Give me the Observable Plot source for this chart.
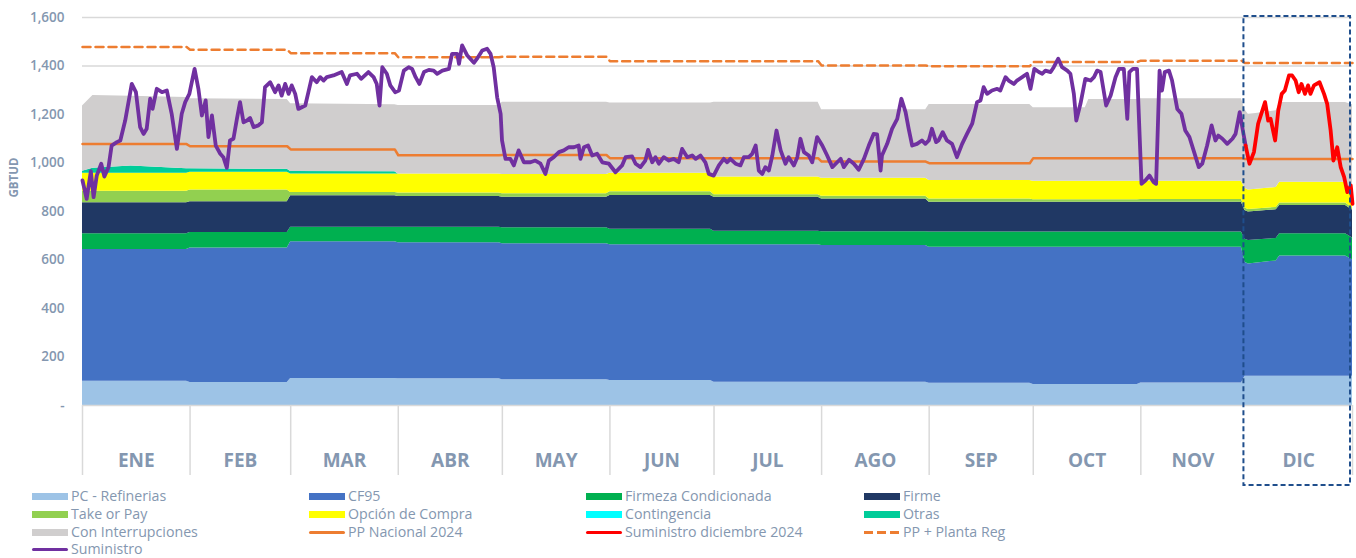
<!DOCTYPE html>
<html>
<head>
<meta charset="utf-8">
<script src="https://cdn.jsdelivr.net/npm/d3@7"></script>
<script src="https://cdn.jsdelivr.net/npm/@observablehq/plot@0.6"></script>
<style>
  html, body { margin: 0; padding: 0; background: #fff; }
  #wrap { position: relative; width: 1356px; height: 558px; overflow: hidden; font-family: "Open Sans", sans-serif; }
  #legend { position: absolute; left: 0; top: 486px; width: 1356px; height: 72px; }
  .item { position: absolute; display: flex; align-items: center; font-size: 14.2px; font-weight: 500; color: #8497b0; white-space: nowrap; line-height: 16px; height: 16px; }
  .sw { display: inline-block; width: 36px; margin-right: 3px; }
</style>
</head>
<body>
<div id="wrap">
  <div id="chart"></div>
  <div id="legend"></div>
</div>
<script>
// ---------- DATA ----------
const months = ["ENE","FEB","MAR","ABR","MAY","JUN","JUL","AGO","SEP","OCT","NOV","DIC"];
const monthStart = [0,31,60,91,121,152,182,213,244,274,305,335,366];
const yTicks = [0,200,400,600,800,1000,1200,1400,1600];

const layerNames = ["PC - Refinerias","CF95","Firmeza Condicionada","Firme","Take or Pay","Opción de Compra","Contingencia","Otras","Con Interrupciones"];
const layerColors = ["#9dc3e6","#4472c4","#00b050","#203864","#92d050","#ffff00","#00ffff","#00cc99","#d0cece"];

const keyDays = [0,3,14,30, 31,59, 60,90, 91,120, 121,151, 152,181, 182,212, 213,243, 244,273, 274,289,290,304, 305,334, 335,336,344,345,364,366];
const pcRefinerias = [100,100,100,100, 95,95, 111,111, 110,110, 106,106, 103,103, 96,96, 96,96, 92,92, 87,87,87,87, 93,93, 121,121,121,121,121,121];
const cf95 = [543,543,543,543, 555,555, 564,564, 561,561, 561,561, 560,560, 567,567, 564,564, 561,561, 566,566,566,566, 560,560, 470,463,475,495,495,480];
const firmezaCond = [65,65,65,65, 63,63, 60,60, 64,64, 66,66, 64,64, 56,56, 57,57, 62,62, 62,62,62,62, 62,62, 95,96,93,92,92,90];
const firme = [128,128,128,128, 127,127, 130,130, 127,127, 126,126, 139,139, 140,140, 135,135, 123,123, 123,123,123,123, 123,123, 118,118,118,117,117,115];
const takeOrPay = [48,48,48,48, 49,49, 13,13, 14,14, 14,14, 15,15, 10,10, 11,11, 14,14, 10,10,10,10, 12,12, 10,10,10,10,10,8];
const opcionCompra = [74,74,74,74, 73,73, 77,77, 79,79, 80,80, 77,77, 73,73, 74,74, 76,76, 77,77,77,77, 75,75, 82,81,82,86,86,60];
const contingencia = [0,0,0,0, 0,0, 0,0, 0,0, 0,0, 0,0, 0,0, 0,0, 0,0, 0,0,0,0, 0,0, 0,0,0,0,0,0];
const otras = [8,20,30,18, 14,12, 10,9, 0,0, 0,0, 0,0, 0,0, 0,0, 0,0, 0,0,0,0, 0,0, 0,0,0,0,0,0];
const conInterrupciones = [269,300,287,294, 289,288, 279,276, 282,282, 298,298, 289,289, 309,309, 283,283, 313,313, 303,303,337,337, 340,340, 324,311,316,329,329,366];

const ppDays = [0,30,31,59,60,90,91,120,121,151,152,181,182,212,213,243,244,273,274,304,305,334,335,366];
const ppNacional = [1078,1078,1069,1069,1056,1056,1032,1032,1033,1033,1020,1020,1020,1020,1006,1006,999,999,1020,1020,1020,1020,1016,1016];
const ppPlantaReg = [1478,1478,1467,1467,1453,1453,1436,1436,1438,1438,1420,1420,1420,1420,1402,1402,1399,1399,1417,1417,1422,1422,1412,1412];

const suministro = [[0,928],[1.2,852],[2.4,966],[3.2,859],[4.1,948],[5.4,997],[6.3,944],[7.5,983],[8.4,1072],[9.9,1086],[10.9,1093],[12.3,1175],[14.2,1326],[15.4,1292],[16.6,1148],[17.6,1120],[18.5,1141],[19.5,1265],[20.2,1223],[21.4,1306],[22.9,1292],[24.3,1299],[25.7,1203],[27.2,1058],[28.6,1203],[29.6,1251],[30.8,1285],[32.3,1388],[33.4,1306],[34.4,1196],[35.5,1258],[36.3,1107],[37.3,1196],[38.4,1072],[39.7,1038],[40.6,1024],[41.6,980],[42.5,1093],[43.5,1100],[44.5,1182],[45.4,1251],[46.4,1168],[47.4,1175],[48.3,1186],[49.3,1148],[50.7,1155],[51.7,1168],[52.6,1313],[54.1,1333],[55.5,1292],[56.5,1320],[57.4,1278],[58.4,1326],[59.4,1285],[60.3,1320],[61.3,1285],[62.2,1223],[64.2,1237],[65.1,1292],[66.1,1354],[67.5,1333],[68.5,1354],[69.5,1340],[70.4,1354],[72.3,1361],[74.7,1375],[76.2,1326],[77.1,1361],[79.1,1368],[80.3,1347],[82.4,1375],[83.9,1354],[84.8,1326],[85.6,1237],[86.4,1395],[87.7,1368],[88.7,1320],[90.1,1292],[91.2,1299],[92.6,1381],[94.0,1395],[95.0,1388],[96.0,1354],[97.1,1326],[98.4,1375],[99.8,1384],[101.2,1381],[102.2,1368],[103.7,1381],[105.6,1388],[106.5,1450],[108.0,1450],[108.5,1409],[109.4,1485],[110.9,1443],[112.8,1413],[113.7,1430],[115.2,1464],[116.6,1471],[117.6,1450],[118.5,1395],[119.5,1271],[120.5,1203],[120.9,1093],[121.9,1017],[123.3,1017],[124.3,990],[125.7,1052],[127.2,1003],[129.1,1003],[130.5,1010],[132.0,997],[133.4,955],[134.4,1010],[135.8,1024],[137.3,1045],[138.7,1052],[140.1,1065],[141.6,1065],[143.0,1072],[143.5,1017],[144.5,1065],[145.7,1072],[146.9,1031],[148.3,1038],[149.8,1003],[151.7,997],[153.6,962],[155.5,990],[156.5,1024],[158.4,1027],[159.4,997],[160.8,983],[162.2,1010],[163.0,1054],[164.2,1003],[165.1,1024],[166.1,997],[167.5,1024],[169.0,1010],[170.4,1017],[171.8,1003],[172.8,1058],[174.3,1024],[175.7,1031],[176.7,1017],[178.1,1031],[179.5,1003],[180.5,955],[181.9,948],[183.4,990],[184.8,1017],[185.8,1003],[186.7,1017],[188.2,997],[189.6,990],[190.6,1024],[192.0,1024],[193.0,1038],[194.0,1072],[194.9,969],[195.9,955],[196.8,983],[197.8,969],[198.8,1031],[200.0,1134],[201.2,1052],[202.6,997],[203.5,1024],[205.0,990],[206.0,1024],[206.9,1100],[207.9,1045],[209.3,1031],[210.3,1003],[211.7,1107],[213.2,1072],[214.6,1031],[216.1,983],[217.5,1003],[218.5,1017],[219.4,983],[220.9,1013],[222.3,997],[223.7,972],[225.2,1017],[226.6,1072],[228.0,1120],[229.0,1118],[230.0,969],[230.4,1031],[231.9,1079],[233.3,1141],[234.8,1182],[236.0,1265],[237.2,1210],[238.1,1141],[239.1,1072],[240.5,1079],[241.9,1093],[242.9,1079],[243.9,1093],[244.8,1141],[246.0,1086],[246.7,1093],[247.9,1127],[249.1,1093],[250.6,1079],[252.0,1024],[253.5,1079],[254.9,1120],[256.4,1162],[257.8,1251],[258.8,1258],[259.7,1313],[260.7,1285],[262.1,1299],[263.6,1306],[264.5,1299],[266.0,1354],[266.9,1340],[268.4,1326],[269.3,1340],[270.8,1354],[272.2,1368],[273.2,1306],[274.3,1388],[275.6,1375],[276.6,1368],[277.5,1381],[279.0,1375],[279.9,1395],[281.2,1430],[282.3,1395],[283.8,1381],[284.7,1368],[285.7,1285],[286.4,1175],[287.6,1244],[289.0,1347],[290.5,1340],[291.5,1354],[292.4,1381],[293.4,1375],[295.0,1237],[296.3,1278],[297.7,1354],[298.7,1388],[300.1,1388],[301.1,1182],[301.7,1375],[302.7,1388],[303.9,1388],[305.2,914],[306.3,928],[307.5,948],[308.7,921],[309.4,914],[310.4,1381],[311.1,1299],[311.9,1375],[313.1,1381],[314.0,1340],[315.5,1223],[316.7,1203],[317.8,1134],[319.0,1107],[320.2,1052],[321.7,983],[322.7,997],[324.1,1072],[325.4,1155],[326.5,1093],[327.3,1113],[328.5,1100],[329.9,1079],[331.4,1100],[332.3,1120],[333.5,1210],[334.4,1134],[335.2,1072]];

const suministroDic = [[335.2,1072],[336.3,997],[337.6,1045],[338.8,1162],[340.8,1251],[341.7,1175],[342.4,1182],[343.7,1093],[344.6,1216],[345.6,1285],[346.5,1299],[347.7,1361],[348.6,1361],[349.6,1340],[350.5,1292],[351.3,1326],[352.3,1285],[353.2,1320],[353.9,1285],[354.9,1320],[356.5,1333],[357.8,1285],[358.7,1244],[359.7,1134],[360.5,1010],[361.6,1065],[362.6,983],[363.6,942],[364.5,880],[365.5,907],[366,832]];

// ---------- BUILD ----------
const layerValues = [pcRefinerias, cf95, firmezaCond, firme, takeOrPay, opcionCompra, contingencia, otras, conInterrupciones];
const stackRows = [];
layerNames.forEach((name, i) => {
  keyDays.forEach((d, j) => stackRows.push({series: name, day: d, value: layerValues[i][j]}));
});
const ppNacRows = ppDays.map((d, i) => ({day: d, value: ppNacional[i]}));
const ppPlantaRows = ppDays.map((d, i) => ({day: d, value: ppPlantaReg[i]}));
const monthRows = months.map((m, i) => ({label: m, mid: (monthStart[i] + monthStart[i + 1]) / 2}));

const textColor = "#8497b0";
const font = "'Open Sans', sans-serif";

const chart = Plot.plot({
  width: 1356,
  height: 490,
  marginLeft: 82,
  marginRight: 4,
  marginTop: 17,
  marginBottom: 85,
  style: {fontFamily: font, background: "white", overflow: "visible"},
  x: {domain: [0, 366], axis: null},
  y: {domain: [0, 1600], axis: null},
  color: {domain: layerNames, range: layerColors},
  marks: [
    Plot.gridY(yTicks.slice(1), {stroke: "#d9d9d9", strokeOpacity: 1, strokeWidth: 1.5}),
    Plot.areaY(stackRows, {x: "day", y: "value", z: "series", fill: "series"}),
    Plot.ruleY([0], {stroke: "#d9d9d9", strokeWidth: 1.5}),
    Plot.lineY(ppNacRows, {x: "day", y: "value", stroke: "#ed7d31", strokeWidth: 2.5}),
    Plot.lineY(ppPlantaRows, {x: "day", y: "value", stroke: "#ed7d31", strokeWidth: 2.5, strokeDasharray: "8,5"}),
    Plot.line(suministro, {x: d => d[0], y: d => d[1], stroke: "#7030a0", strokeWidth: 3.8, strokeLinejoin: "round"}),
    Plot.line(suministroDic, {x: d => d[0], y: d => d[1], stroke: "#ff0000", strokeWidth: 3.8, strokeLinejoin: "round"}),
    Plot.axisY(yTicks, {tickSize: 0, tickPadding: 18, tickFormat: d => d === 0 ? "-" : d3.format(",")(d), fontSize: 13.5, fontWeight: 600, fill: textColor, label: null}),
    Plot.text(["GBTUD"], {frameAnchor: "left", dx: -68, dy: -14, rotate: -90, fontSize: 11.5, fontWeight: 700, fill: textColor}),
    Plot.ruleX(monthStart.filter((d, i) => i !== 11), {x: d => d, stroke: "#d9d9d9", strokeWidth: 1.5, insetTop: 388, insetBottom: -70}),
    Plot.text(monthRows, {x: "mid", text: "label", frameAnchor: "bottom", dy: 61, fontSize: 19, fontWeight: 700, fill: textColor}),
    Plot.rect([{x1: monthStart[11], x2: monthStart[12]}], {x1: "x1", x2: "x2", fill: "none", stroke: "#1f4e8c", strokeWidth: 2, strokeDasharray: "5,3", insetTop: -1, insetBottom: -80, insetLeft: -1, insetRight: 2})
  ]
});
document.getElementById("chart").appendChild(chart);

// ---------- LEGEND ----------
const legendItems = [
  {name: "PC - Refinerias", color: "#9dc3e6", type: "area"},
  {name: "CF95", color: "#4472c4", type: "area"},
  {name: "Firmeza Condicionada", color: "#00b050", type: "area"},
  {name: "Firme", color: "#203864", type: "area"},
  {name: "Take or Pay", color: "#92d050", type: "area"},
  {name: "Opción de Compra", color: "#ffff00", type: "area"},
  {name: "Contingencia", color: "#00ffff", type: "area"},
  {name: "Otras", color: "#00cc99", type: "area"},
  {name: "Con Interrupciones", color: "#d0cece", type: "area"},
  {name: "PP Nacional 2024", color: "#ed7d31", type: "line"},
  {name: "Suministro diciembre 2024", color: "#ff0000", type: "line"},
  {name: "PP + Planta Reg", color: "#ed7d31", type: "dash"},
  {name: "Suministro", color: "#7030a0", type: "line"}
];
const colLeft = [32, 309, 586, 864];
const rowTop = [2, 20, 38, 55];
const legend = document.getElementById("legend");
legendItems.forEach((it, i) => {
  const div = document.createElement("div");
  div.className = "item";
  div.style.left = colLeft[i % 4] + "px";
  div.style.top = rowTop[Math.floor(i / 4)] + "px";
  const sw = document.createElement("span");
  sw.className = "sw";
  if (it.type === "area") {
    sw.style.height = "7px";
    sw.style.background = it.color;
  } else if (it.type === "line") {
    sw.style.height = "3px";
    sw.style.background = it.color;
    sw.style.borderRadius = "2px";
  } else {
    sw.style.height = "3px";
    sw.style.background = `repeating-linear-gradient(90deg, ${it.color} 0 9px, transparent 9px 13px)`;
  }
  div.appendChild(sw);
  const t = document.createElement("span");
  t.textContent = it.name;
  div.appendChild(t);
  legend.appendChild(div);
});
</script>
</body>
</html>
